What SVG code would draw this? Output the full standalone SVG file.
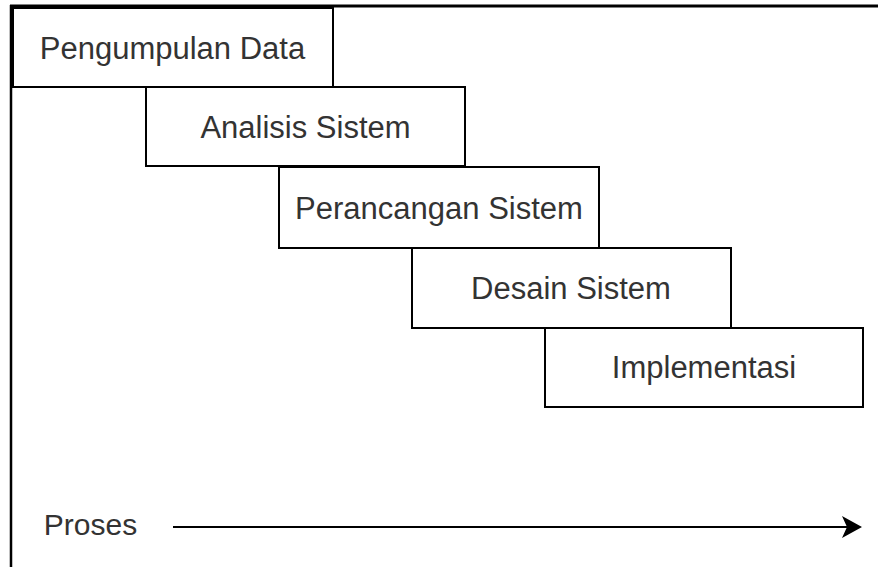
<svg xmlns="http://www.w3.org/2000/svg" width="878" height="567" viewBox="0 0 878 567">
<style>
.box{fill:#fff;stroke:#000;stroke-width:2}
.lbl{font-family:"Liberation Sans",Arial,sans-serif;font-size:31px;fill:#333;text-anchor:middle}
.frame{stroke:#000;fill:none}
</style>
<defs>
<marker id="arr" markerWidth="20" markerHeight="22" refX="13" refY="11" orient="auto" markerUnits="userSpaceOnUse" viewBox="0 0 20 22">
<path d="M0,0 L20,11 L0,22 L5,11 Z" fill="#000"/>
</marker>
</defs>
<rect width="878" height="567" fill="#fff"/>
<line class="frame" x1="10" y1="6" x2="878" y2="6" stroke-width="3"/>
<line class="frame" x1="11" y1="5" x2="11" y2="567" stroke-width="2.5"/>
<g id="node-pengumpulan">
<rect class="box" x="13" y="8" width="320" height="79"/>
<text class="lbl" x="172.5" y="58.5">Pengumpulan Data</text>
</g>
<g id="node-analisis">
<rect class="box" x="146" y="87" width="319" height="79"/>
<text class="lbl" x="305.5" y="137.5">Analisis Sistem</text>
</g>
<g id="node-perancangan">
<rect class="box" x="279" y="167" width="320" height="81"/>
<text class="lbl" x="439" y="218.5">Perancangan Sistem</text>
</g>
<g id="node-desain">
<rect class="box" x="412" y="248" width="319" height="80"/>
<text class="lbl" x="571" y="298.5">Desain Sistem</text>
</g>
<g id="node-implementasi">
<rect class="box" x="545" y="328" width="318" height="79"/>
<text class="lbl" x="704" y="378">Implementasi</text>
</g>
<g id="node-proses">
<text class="lbl" x="90.5" y="535" style="font-size:30px">Proses</text>
</g>
<g id="connectors">
<line x1="173" y1="527" x2="855" y2="527" stroke="#000" stroke-width="2" marker-end="url(#arr)"/>
</g>
</svg>
